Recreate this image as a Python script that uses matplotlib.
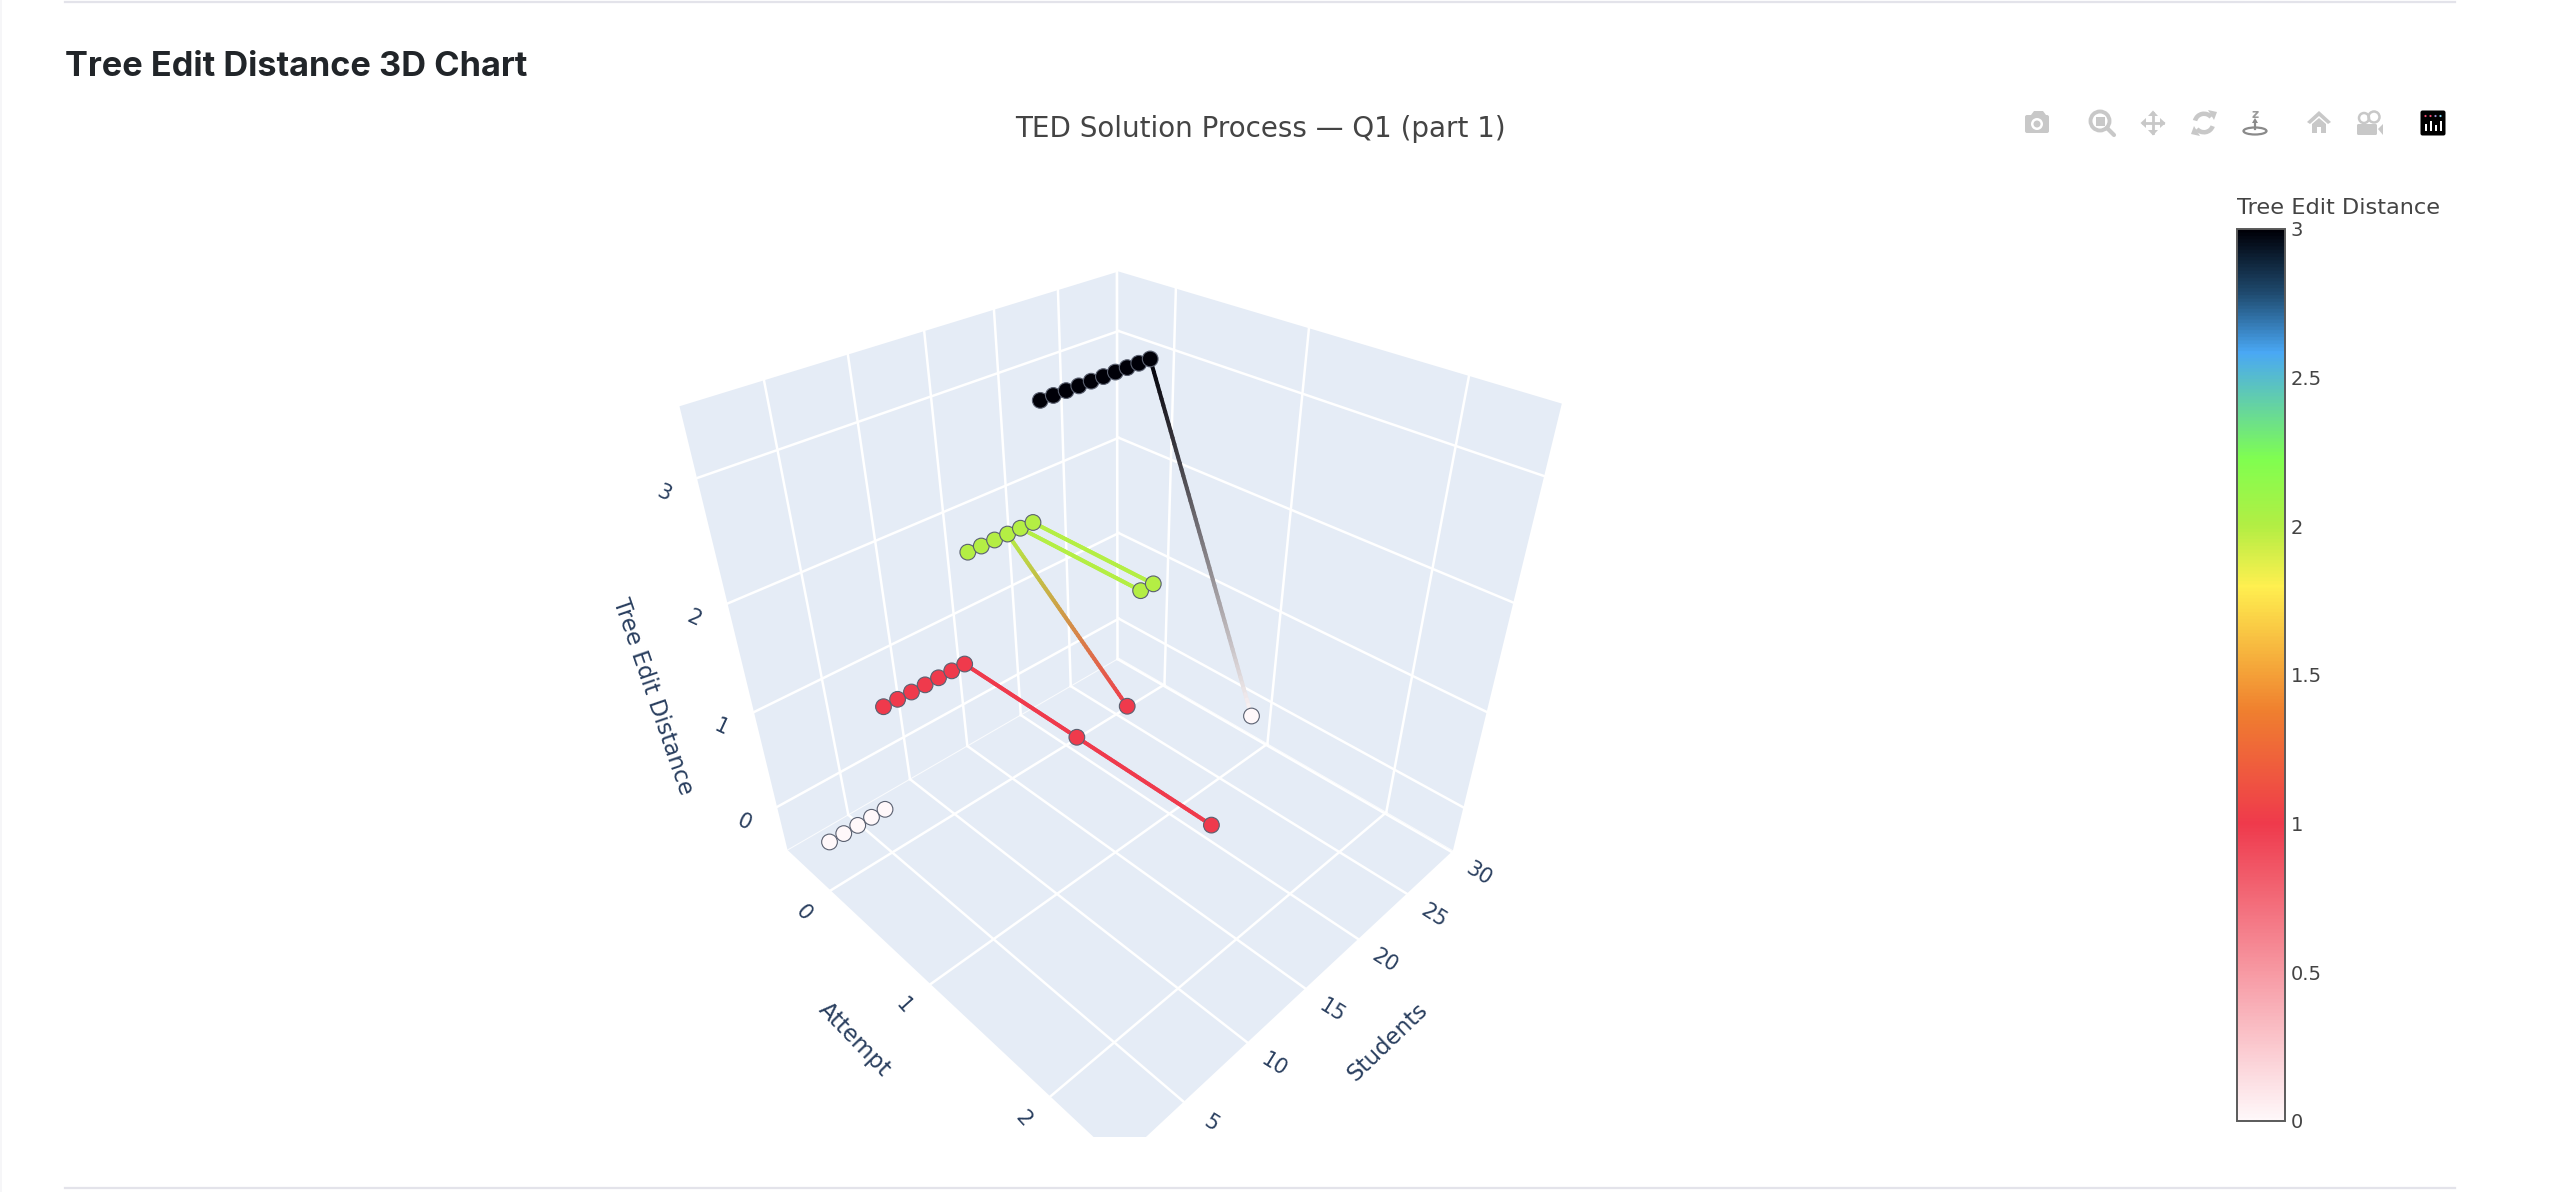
import numpy as np
import matplotlib
matplotlib.use("Agg")
import matplotlib.pyplot as plt
from matplotlib.collections import LineCollection
from matplotlib.colors import LinearSegmentedColormap
from matplotlib.patches import Circle, Ellipse, FancyBboxPatch, Polygon, Rectangle, Wedge

# first attempt of every student, sorted by distance
student_ids = list(range(1, 29))
first_ted = [0, 0, 0, 0, 0, 1, 1, 1, 1, 1, 1, 1, 2, 2, 2, 2, 2, 2, 3, 3, 3, 3, 3, 3, 3, 3, 3, 3]

# students that came back for another attempt: (student, attempt, ted)
retry_students = [12, 12, 16, 17, 18, 28]
retry_attempts = [1, 2, 1, 1, 1, 1]
retry_ted = [1, 1, 1, 2, 2, 0]

attempt_ticks = [0, 1, 2]
student_ticks = [5, 10, 15, 20, 25, 30]
ted_ticks = [0, 1, 2, 3]
colorbar_ticks = [0, 0.5, 1, 1.5, 2, 2.5, 3]
colorbar_labels = ["0", "0.5", "1", "1.5", "2", "2.5", "3"]

attempt_range = (-0.49, 2.5)
student_range = (0.42, 30.15)
ted_range = (-0.5, 3.51)

# fixed camera of the scene, data -> image pixels
CAMERA = np.array([
    [2.33283163e+01, 2.14705965e+01, -7.39004197e+01, 8.15052091e+02],
    [1.22757049e+01, -1.39783588e+00, -1.46177856e+02, 8.50475563e+02],
    [-8.61840156e-02, 8.44502912e-03, -6.59706037e-02, 1.0],
])

PANE = "#e5ecf6"
AXIS_TEXT = "#2a3f5f"
CHART_TEXT = "#444444"
ICON = "#c8c8c8"

ted_cmap = LinearSegmentedColormap.from_list("ted", [
    (0.0, "#fff8fa"), (0.333, "#ef3a4c"), (0.46, "#f0802f"), (0.6, "#fff050"),
    (0.667, "#b4ee44"), (0.743, "#80ff50"), (0.863, "#4aa8f5"), (0.93, "#1f4a6e"), (1.0, "#000008"),
])


def project(a, s, z):
    h = CAMERA @ np.array([a, s, z, 1.0])
    return h[0] / h[2], h[1] / h[2]


def ted_color(v):
    return np.array(ted_cmap(v / 3.0)[:3])


plt.rcParams["font.family"] = "DejaVu Sans"
fig = plt.figure(figsize=(25.70, 11.92), dpi=100)
ax = fig.add_axes([0, 0, 1, 1])

scene_clip = Rectangle((0, 0), 2570, 1137, transform=ax.transData)


def pane(corners):
    p = Polygon([project(*c) for c in corners], closed=True, fc=PANE, ec="none", zorder=1)
    ax.add_patch(p)
    p.set_clip_path(scene_clip)


def grid_line(start, end, lw=1.8, alpha=1.0):
    x0, y0 = project(*start)
    x1, y1 = project(*end)
    line, = ax.plot([x0, x1], [y0, y1], color="white", lw=lw, alpha=alpha, zorder=2)
    line.set_clip_path(scene_clip)


a0, a1 = attempt_range
s0, s1 = student_range
z0, z1 = ted_range

pane([(a0, s0, z0), (a0, s1, z0), (a1, s1, z0), (a1, s0, z0)])
pane([(a0, s0, z0), (a0, s1, z0), (a0, s1, z1), (a0, s0, z1)])
pane([(a0, s1, z0), (a1, s1, z0), (a1, s1, z1), (a0, s1, z1)])

for a in attempt_ticks:
    grid_line((a, s0, z0), (a, s1, z0))
    grid_line((a, s1, z0), (a, s1, z1))
for s in student_ticks:
    grid_line((a0, s, z0), (a1, s, z0))
    grid_line((a0, s, z0), (a0, s, z1))
for z in ted_ticks:
    grid_line((a0, s0, z), (a0, s1, z))
    grid_line((a0, s1, z), (a1, s1, z))
grid_line((a0, s0, z0), (a0, s1, z0), lw=0.8, alpha=0.7)
grid_line((a0, s1, z0), (a1, s1, z0), lw=0.8, alpha=0.7)

# retry lines, colour runs from one end to the other
first_lookup = dict(zip(student_ids, first_ted))
last_seen = {}
segments, seg_colors = [], []
for s, a, t in zip(retry_students, retry_attempts, retry_ted):
    pa, pt = last_seen.get(s, (0, first_lookup[s]))
    for f0, f1 in zip(np.linspace(0, 1, 60)[:-1], np.linspace(0, 1, 60)[1:]):
        aa0, zz0 = pa + (a - pa) * f0, pt + (t - pt) * f0
        aa1, zz1 = pa + (a - pa) * f1, pt + (t - pt) * f1
        segments.append([project(aa0, s, zz0), project(aa1, s, zz1)])
        seg_colors.append(ted_color(pt) * (1 - f0) + ted_color(t) * f0)
    last_seen[s] = (a, t)
ax.add_collection(LineCollection(segments, colors=seg_colors, linewidths=2.9, capstyle="round", zorder=3))

all_a = [0] * len(student_ids) + retry_attempts
all_s = student_ids + retry_students
all_t = first_ted + retry_ted
xy = np.array([project(a, s, t) for a, s, t in zip(all_a, all_s, all_t)])
ax.scatter(xy[:, 0], xy[:, 1], c=np.array(all_t), cmap=ted_cmap, vmin=0, vmax=3, s=128,
           edgecolors="#5a6070", linewidths=0.8, zorder=4)

# axis tick labels, rotated along the floor like the gl scene does
for a in attempt_ticks:
    x, y = project(a, s0, z0)
    ax.text(x - 27, y + 22, str(a), fontsize=15, color=AXIS_TEXT, rotation=-48,
            ha="center", va="center", rotation_mode="anchor")
for s in student_ticks:
    x, y = project(a1, s, z0)
    ax.text(x + 27, y + 22, str(s), fontsize=15, color=AXIS_TEXT, rotation=-32,
            ha="center", va="center", rotation_mode="anchor")
for z in ted_ticks:
    x, y = project(a0, s0, z)
    ax.text(x - 33, y + 15, str(z), fontsize=15, color=AXIS_TEXT, rotation=-25,
            ha="center", va="center", rotation_mode="anchor")
ax.text(653, 697, "Tree Edit Distance", fontsize=16.5, color=AXIS_TEXT, rotation=-71,
        ha="center", va="center", rotation_mode="anchor")
ax.text(854, 1040, "Attempt", fontsize=16.5, color=AXIS_TEXT, rotation=-46,
        ha="center", va="center", rotation_mode="anchor")
ax.text(1388, 1042, "Students", fontsize=16.5, color=AXIS_TEXT, rotation=44,
        ha="center", va="center", rotation_mode="anchor")

# page furniture
ax.plot([65, 2455], [2, 2], color="#e3e3ea", lw=1.6, zorder=1)
ax.plot([65, 2455], [1188, 1188], color="#e3e3ea", lw=1.6, zorder=1)
ax.add_patch(Rectangle((0, 0), 2, 1192, fc="#f6f6f8", ec="none"))
ax.text(65, 67, "Tree Edit Distance 3D Chart", fontsize=24.7, fontweight="bold", family="Inter",
        color="#212529", ha="left", va="center")
ax.text(1260, 129, "TED Solution Process — Q1 (part 1)", fontsize=20, color=CHART_TEXT,
        ha="center", va="center")

# colorbar
bar_left, bar_right, bar_top, bar_bottom = 2237, 2285, 229, 1121
gradient = np.linspace(3, 0, 512).reshape(-1, 1)
ax.imshow(gradient, cmap=ted_cmap, vmin=0, vmax=3, aspect="auto", zorder=2,
          extent=[bar_left, bar_right, bar_bottom, bar_top])
ax.add_patch(Rectangle((bar_left, bar_top), bar_right - bar_left, bar_bottom - bar_top,
                       fc="none", ec="#5a5a5a", lw=1.4, zorder=3))
for v, lab in zip(colorbar_ticks, colorbar_labels):
    ty = bar_bottom + (bar_top - bar_bottom) * v / 3.0
    ax.text(bar_right + 6, ty + 2, lab, fontsize=14, color=CHART_TEXT, ha="left", va="center")
ax.text(bar_left, 208, "Tree Edit Distance", fontsize=16.2, color=CHART_TEXT, ha="left", va="center")


# modebar icons
def add(patch):
    patch.set_zorder(5)
    ax.add_patch(patch)


def camera_icon(cx, cy):
    add(FancyBboxPatch((cx - 12, cy - 8), 24, 18, boxstyle="round,pad=0,rounding_size=2", fc=ICON, ec="none"))
    add(Polygon([(cx - 6, cy - 8), (cx - 3, cy - 12), (cx + 6, cy - 12), (cx + 9, cy - 8)], fc=ICON, ec="none"))
    add(Circle((cx, cy + 1), 6, fc="white", ec="none"))
    add(Circle((cx, cy + 1), 3.5, fc=ICON, ec="none"))


def zoom_icon(cx, cy):
    add(Circle((cx - 2, cy - 2), 9.5, fc="none", ec=ICON, lw=2.8))
    add(Rectangle((cx - 6.5, cy - 6.5), 9, 9, fc=ICON, ec="none"))
    ax.plot([cx + 5, cx + 12], [cy + 5, cy + 12], color=ICON, lw=3, solid_capstyle="round", zorder=5)


def pan_icon(cx, cy):
    ax.plot([cx - 10, cx + 10], [cy, cy], color=ICON, lw=2, zorder=5)
    ax.plot([cx, cx], [cy - 10, cy + 10], color=ICON, lw=2, zorder=5)
    for dx, dy in [(1, 0), (-1, 0), (0, 1), (0, -1)]:
        tip = (cx + 12.5 * dx, cy + 12.5 * dy)
        b0 = (cx + 7 * dx + 5 * dy, cy + 7 * dy + 5 * dx)
        b1 = (cx + 7 * dx - 5 * dy, cy + 7 * dy - 5 * dx)
        add(Polygon([tip, b0, b1], fc=ICON, ec="none"))


def orbit_icon(cx, cy):
    add(Wedge((cx, cy), 11.5, 195, 320, width=4.5, fc=ICON, ec="none"))
    add(Wedge((cx, cy), 11.5, 20, 140, width=4.5, fc=ICON, ec="none"))
    add(Polygon([(cx + 4, cy - 13), (cx + 13, cy - 11), (cx + 10, cy - 3)], fc=ICON, ec="none"))
    add(Polygon([(cx - 4, cy + 13), (cx - 13, cy + 11), (cx - 10, cy + 3)], fc=ICON, ec="none"))


def turntable_icon(cx, cy):
    ax.text(cx, cy - 9, "z", fontsize=9, fontweight="bold", color="#9a9a9a", ha="center", va="center", zorder=5)
    ax.plot([cx, cx], [cy + 6, cy - 2], color="#8a8a8a", lw=1.6, zorder=5)
    add(Polygon([(cx, cy - 5), (cx - 3, cy), (cx + 3, cy)], fc="#8a8a8a", ec="none"))
    add(Ellipse((cx, cy + 8), 23, 7, fc="none", ec="#8a8a8a", lw=1.6))


def home_icon(cx, cy):
    add(Polygon([(cx - 12, cy - 1), (cx, cy - 12), (cx + 12, cy - 1), (cx + 9, cy + 1), (cx, cy - 7), (cx - 9, cy + 1)],
                fc=ICON, ec="none"))
    add(Polygon([(cx - 7, cy + 1), (cx, cy - 5), (cx + 7, cy + 1), (cx + 7, cy + 10), (cx + 2, cy + 10), (cx + 2, cy + 4),
                 (cx - 2, cy + 4), (cx - 2, cy + 10), (cx - 7, cy + 10)], fc=ICON, ec="none"))


def video_icon(cx, cy):
    add(Circle((cx - 6, cy - 6), 5, fc="none", ec=ICON, lw=1.8))
    add(Circle((cx + 4, cy - 7), 5.5, fc="none", ec=ICON, lw=1.8))
    add(FancyBboxPatch((cx - 13, cy), 20, 11, boxstyle="round,pad=0,rounding_size=1.5", fc=ICON, ec="none"))
    add(Polygon([(cx + 8, cy + 5), (cx + 13, cy), (cx + 13, cy + 11)], fc=ICON, ec="none"))


def logo_icon(cx, cy):
    add(FancyBboxPatch((cx - 12.5, cy - 12.5), 25, 25, boxstyle="round,pad=0,rounding_size=2", fc="black", ec="none"))
    dots = ["#ef476f", "#ef476f", "#9a8cd0", "#7fd4f0"]
    for i, h in enumerate([6, 9, 5, 9]):
        bx = cx - 7.5 + 5 * i
        add(Circle((bx, cy - 7), 1.1, fc=dots[i], ec="none"))
        add(Rectangle((bx - 1, cy + 8 - h - 1), 2, h + 1, fc="white", ec="none"))


camera_icon(2037, 123)
zoom_icon(2102, 123)
pan_icon(2153, 123)
orbit_icon(2204, 123)
turntable_icon(2255, 123)
home_icon(2319, 123)
video_icon(2370, 124)
logo_icon(2433, 123)

ax.set_xlim(0, 2570)
ax.set_ylim(1192, 0)
ax.axis("off")
fig.savefig("out.png", dpi=100)
